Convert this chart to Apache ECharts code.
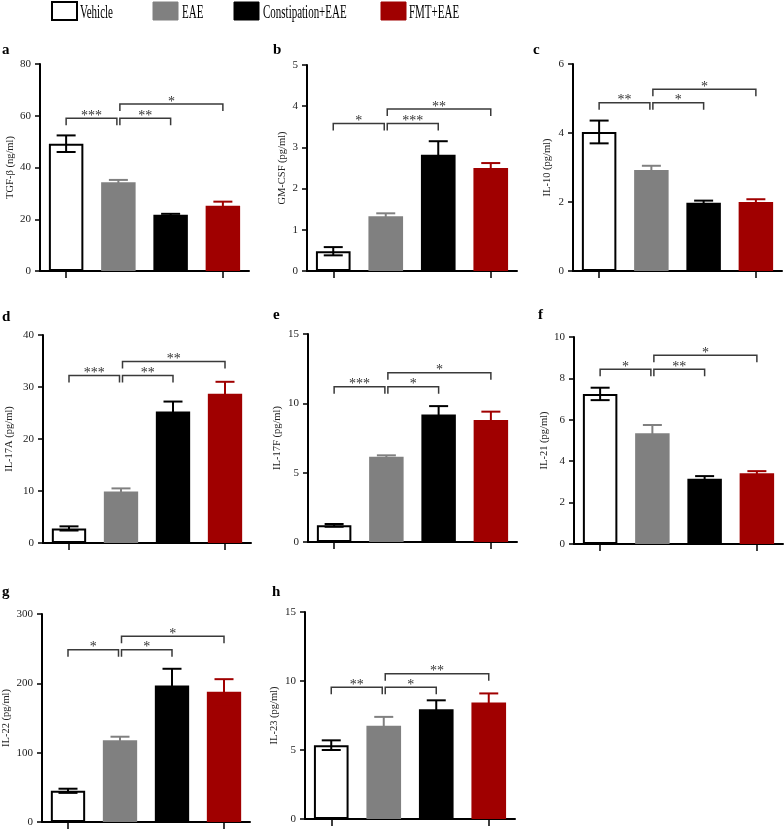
<!DOCTYPE html>
<html><head><meta charset="utf-8">
<script src="https://cdn.jsdelivr.net/npm/echarts@6/dist/echarts.min.js"></script>
<style>html,body{margin:0;padding:0;background:#fff}#c{width:784px;height:831px}</style>
</head><body><div id="c"></div>
<script>
// ---------- data ----------
const groups = ['Vehicle', 'EAE', 'Constipation+EAE', 'FMT+EAE'];
const panelLetters = ['a', 'b', 'c', 'd', 'e', 'f', 'g', 'h'];
const axisNames = ['TGF-β (ng/ml)', 'GM-CSF (pg/ml)', 'IL-10 (pg/ml)', 'IL-17A (pg/ml)',
  'IL-17F (pg/ml)', 'IL-21 (pg/ml)', 'IL-22 (pg/ml)', 'IL-23 (pg/ml)'];
const yMax = [80, 5, 6, 40, 15, 10, 300, 15];
const yStep = [20, 1, 2, 10, 5, 2, 100, 5];

const tgfBeta = [49.2, 34.3, 21.7, 25.2];   const tgfBetaErr = [3.2, 0.9, 0.4, 1.6];
const gmCsf = [0.48, 1.33, 2.82, 2.5];      const gmCsfErr = [0.1, 0.07, 0.33, 0.12];
const il10 = [4.03, 2.93, 1.98, 2.0];       const il10Err = [0.33, 0.12, 0.06, 0.08];
const il17a = [2.8, 9.9, 25.3, 28.7];       const il17aErr = [0.4, 0.6, 1.9, 2.3];
const il17f = [1.2, 6.15, 9.2, 8.8];        const il17fErr = [0.1, 0.1, 0.6, 0.6];
const il21 = [7.25, 5.35, 3.15, 3.42];      const il21Err = [0.3, 0.4, 0.13, 0.1];
const il22 = [45, 118, 197, 188];           const il22Err = [3, 5, 24, 18];
const il23 = [5.35, 6.75, 7.95, 8.45];      const il23Err = [0.35, 0.65, 0.65, 0.65];

// significance brackets: pairs of groups, bracket heights (value units), stars
const bracketPairs = [[0, 1], [1, 2], [1, 3]];
const bracketHeights = [
  [59, 59, 64.5], [3.58, 3.58, 3.93], [4.88, 4.88, 5.27], [32.2, 32.2, 34.9],
  [11.2, 11.2, 12.2], [8.44, 8.44, 9.12], [248.6, 248.6, 268], [9.54, 9.54, 10.53]
];
const bracketStars = [
  ['***', '**', '*'], ['*', '***', '**'], ['**', '*', '*'], ['***', '**', '**'],
  ['***', '*', '*'], ['*', '**', '*'], ['*', '*', '*'], ['**', '*', '**']
];

const means = [tgfBeta, gmCsf, il10, il17a, il17f, il21, il22, il23];
const errs = [tgfBetaErr, gmCsfErr, il10Err, il17aErr, il17fErr, il21Err, il22Err, il23Err];

// ---------- styles / layout ----------
const FONT = '"Liberation Serif", "DejaVu Serif", serif';
const fillColors = ['#ffffff', '#808080', '#000000', '#a00000'];
const edgeColors = ['#000000', '#808080', '#000000', '#a00000'];
const grids = [
  {left: 40, top: 64, width: 209, height: 207},
  {left: 307, top: 65, width: 210, height: 206},
  {left: 573, top: 64, width: 209, height: 207},
  {left: 43, top: 335, width: 208, height: 208},
  {left: 308, top: 334, width: 209, height: 208},
  {left: 574, top: 337, width: 209, height: 207},
  {left: 42, top: 614, width: 208, height: 208},
  {left: 305, top: 612, width: 210, height: 207}
];
const nameGaps = [24, 19, 20, 28, 25, 22, 30, 25];
const letterPos = [[2, 50], [273, 50], [533, 50], [2, 317], [273, 315], [538, 315], [2, 592], [272, 592]];
const legendBoxX = [52, 153, 234, 381];
const legendTextX = [80, 182, 263, 409];

const option = {
  animation: false,
  backgroundColor: '#fff',
  grid: [], xAxis: [], yAxis: [], series: [], graphic: []
};

for (let i = 0; i < 8; i++) {
  option.grid.push(grids[i]);
  option.xAxis.push({
    type: 'category', gridIndex: i, data: groups,
    axisLine: {show: true, lineStyle: {color: '#000', width: 2}},
    axisTick: {show: true, alignWithLabel: true, length: 7, lineStyle: {color: '#000', width: 1.5}},
    axisLabel: {show: false}, splitLine: {show: false}
  });
  option.yAxis.push({
    type: 'value', gridIndex: i, min: 0, max: yMax[i], interval: yStep[i],
    axisLine: {show: true, lineStyle: {color: '#000', width: 2}},
    axisTick: {show: true, length: 5, lineStyle: {color: '#000', width: 1.5}},
    axisLabel: {fontFamily: FONT, fontSize: 11, color: '#222', margin: 9},
    splitLine: {show: false},
    name: axisNames[i], nameLocation: 'middle', nameGap: nameGaps[i], nameRotate: 90,
    nameTextStyle: {fontFamily: FONT, fontSize: 10.5, color: '#222'}
  });
  option.series.push({
    type: 'bar', xAxisIndex: i, yAxisIndex: i, barWidth: '66%',
    data: means[i].map((v, k) => ({
      value: v,
      itemStyle: {color: fillColors[k], borderColor: edgeColors[k], borderWidth: k === 0 ? 2 : 0}
    }))
  });
  const e = errs[i];
  option.series.push({
    type: 'custom', xAxisIndex: i, yAxisIndex: i, clip: false, z: 3,
    encode: {x: 0, y: 1},
    data: means[i].map((v, k) => [k, v, e[k]]),
    renderItem: function (params, api) {
      const k = api.value(0), m = api.value(1), s = api.value(2);
      const top = api.coord([k, m + s]);
      const bot = api.coord([k, m - s]);
      const col = edgeColors[k];
      const cw = 9.5;
      const st = {stroke: col, lineWidth: 2};
      return {type: 'group', children: [
        {type: 'line', shape: {x1: top[0], y1: top[1], x2: bot[0], y2: bot[1]}, style: st},
        {type: 'line', shape: {x1: top[0] - cw, y1: top[1], x2: top[0] + cw, y2: top[1]}, style: st},
        {type: 'line', shape: {x1: bot[0] - cw, y1: bot[1], x2: bot[0] + cw, y2: bot[1]}, style: st}
      ]};
    }
  });
  const stars = bracketStars[i];
  option.series.push({
    type: 'custom', xAxisIndex: i, yAxisIndex: i, clip: false, z: 4,
    encode: {x: [0, 1], y: 2},
    data: bracketPairs.map((p, k) => [p[0], p[1], bracketHeights[i][k]]),
    renderItem: function (params, api) {
      const x1 = api.value(0), x2 = api.value(1), h = api.value(2);
      const a = api.coord([x1, h]), b = api.coord([x2, h]);
      const xa = a[0] + (x1 === 1 ? 1.5 : 0);
      const xb = b[0] - (x2 === 1 ? 1.5 : 0);
      const y = a[1];
      return {type: 'group', children: [
        {type: 'polyline', shape: {points: [[xa, y + 7], [xa, y], [xb, y], [xb, y + 7]]},
          style: {stroke: '#3a3a3a', lineWidth: 1.5, fill: null}},
        {type: 'text', style: {text: stars[params.dataIndex], x: (xa + xb) / 2, y: y - 2,
          align: 'center', verticalAlign: 'middle', fontFamily: FONT, fontSize: 14, fill: '#333'}}
      ]};
    }
  });
  option.graphic.push({
    type: 'text', x: letterPos[i][0], y: letterPos[i][1],
    style: {text: panelLetters[i], fontFamily: FONT, fontWeight: 'bold', fontSize: 15,
      fill: '#000', verticalAlign: 'middle'}
  });
}

// legend
for (let k = 0; k < 4; k++) {
  option.graphic.push({
    type: 'rect', shape: {x: legendBoxX[k], y: 2, width: 25, height: 18},
    style: {fill: fillColors[k], stroke: k === 0 ? '#000' : fillColors[k], lineWidth: k === 0 ? 2 : 1}
  });
  option.graphic.push({
    type: 'text', x: legendTextX[k], y: 13, scaleX: 0.61, scaleY: 1,
    style: {text: groups[k], fontFamily: FONT, fontSize: 18, fill: '#000', verticalAlign: 'middle'}
  });
}

const chart = echarts.init(document.getElementById('c'), null, {renderer: 'canvas'});
chart.setOption(option);
</script>
</body></html>
